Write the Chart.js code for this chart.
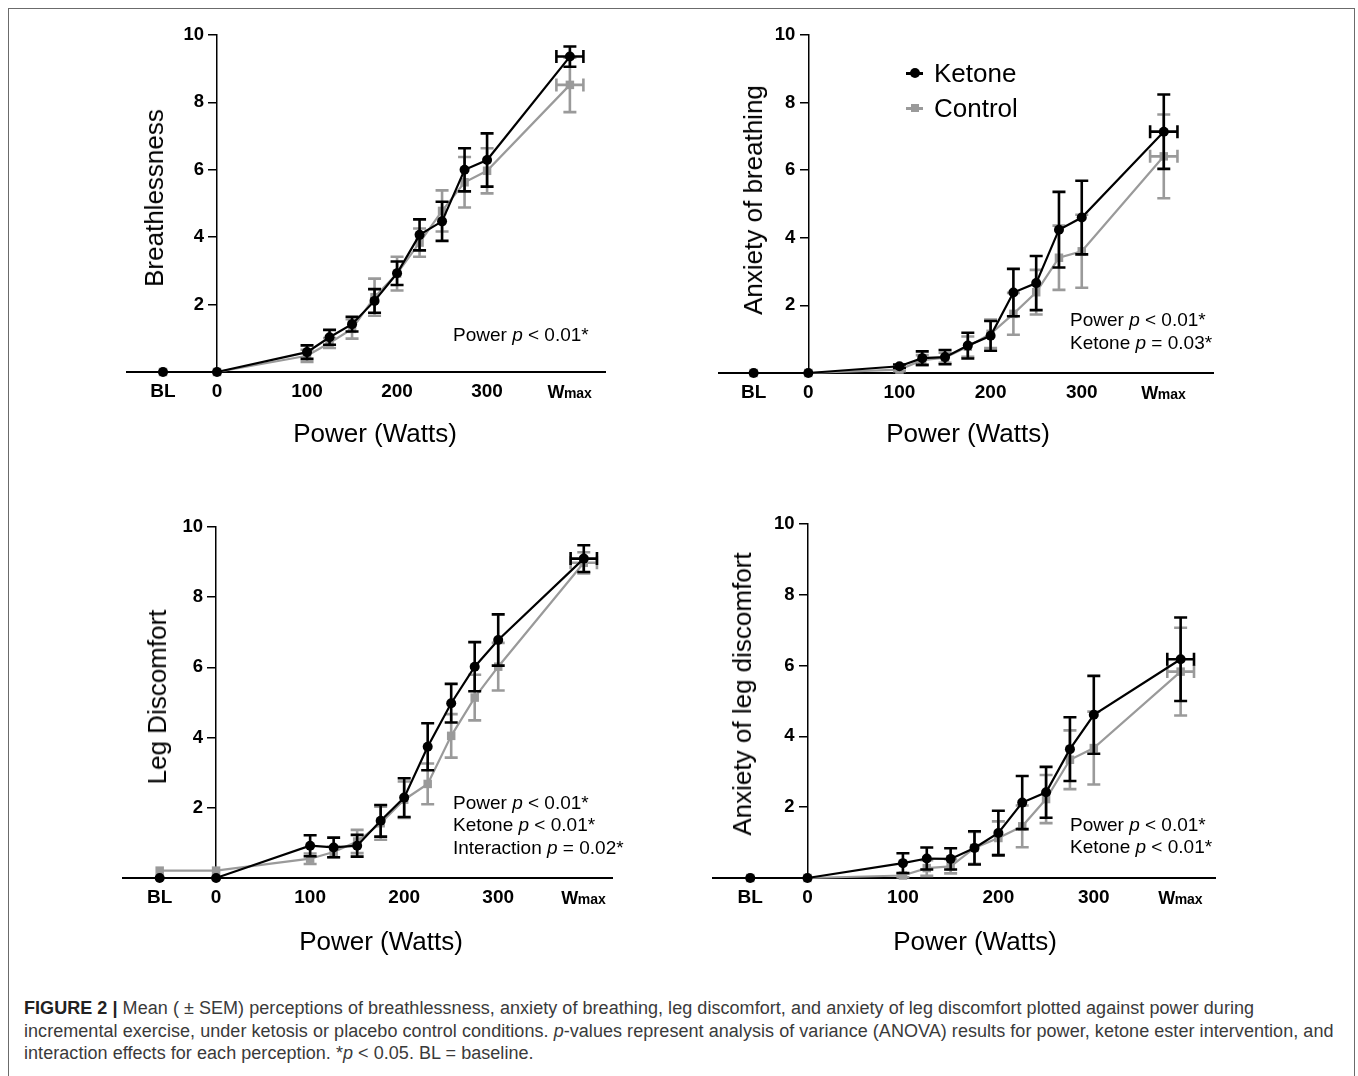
<!DOCTYPE html>
<html>
<head>
<meta charset="utf-8">
<title>Figure 2</title>
<script src="https://cdn.jsdelivr.net/npm/chart.js@4.4.1/dist/chart.umd.min.js"></script>
<style>
  html, body { margin:0; padding:0; background:#fff; }
  body { position:relative; width:1358px; height:1076px; overflow:hidden; font-family:"Liberation Sans", Arial, Helvetica, sans-serif; color:#000; }
  .frame { position:absolute; left:8px; top:8px; width:1347px; height:1100px; border:1.5px solid #6b6b6b; box-sizing:border-box; }
  canvas.panel { position:absolute; }
  .ytitle { position:absolute; font-size:26px; line-height:30px; white-space:nowrap; transform:translate(-50%,-50%) rotate(-90deg); }
  .xtitle { position:absolute; font-size:26px; line-height:30px; white-space:nowrap; transform:translate(-50%,-50%); }
  .anno { position:absolute; font-size:19px; line-height:22.5px; white-space:nowrap; letter-spacing:0px; }
  .legend { position:absolute; font-size:26px; line-height:35px; white-space:nowrap; }
  .legend .row { position:relative; height:35px; }
  .legend .mk { position:absolute; left:0; top:0; width:17px; height:35px; }
  .legend .mk .ln { position:absolute; left:0; top:16.5px; width:17px; height:2.5px; }
  .legend .mk .dot { position:absolute; left:3.5px; top:12.5px; width:10px; height:10px; border-radius:50%; }
  .legend .mk .sq { position:absolute; left:4.5px; top:13.5px; width:8px; height:8px; }
  .legend .tx { position:absolute; left:28px; top:0; }
  .caption { position:absolute; left:24px; top:997px; font-size:18px; line-height:22.5px; color:#3a3a3a; white-space:nowrap; letter-spacing:0.05px; }
</style>
</head>
<body>
<div class="frame"></div>
<script>
// ---------------- categories & tick labels ----------------
const powerSteps  = [-60, 0, 100, 125, 150, 175, 200, 225, 250, 275, 300]; // BL (baseline) plotted at -60
const xTickValues = [-60, 0, 100, 200, 300];
const xTickLabels = ['BL', '0', '100', '200', '300'];
const wmaxTickLabel = ['W', 'max'];
const yTickValues = [0, 2, 4, 6, 8, 10];
const yTickLabels = ['', '2', '4', '6', '8', '10'];
const seriesNames = ['Ketone', 'Control'];

// ---------------- Breathlessness ----------------
const breathWmax = 392, breathWmaxSem = 15;
const breathKetone     = [0, 0, 0.59, 1.03, 1.42, 2.11, 2.93, 4.07, 4.47, 6.00, 6.29, 9.36];
const breathKetoneSem  = [0, 0, 0.20, 0.22, 0.22, 0.35, 0.35, 0.46, 0.58, 0.64, 0.79, 0.30];
const breathControl    = [0, 0, 0.48, 0.86, 1.28, 2.22, 2.92, 3.84, 4.78, 5.63, 5.97, 8.52];
const breathControlSem = [0, 0, 0.18, 0.15, 0.29, 0.55, 0.50, 0.42, 0.61, 0.75, 0.67, 0.81];

// ---------------- Anxiety of breathing ----------------
const anxBreathWmax = 390, anxBreathWmaxSem = 15;
const anxBreathKetone     = [0, 0, 0.20, 0.44, 0.47, 0.81, 1.10, 2.38, 2.66, 4.24, 4.60, 7.14];
const anxBreathKetoneSem  = [0, 0, 0.05, 0.20, 0.21, 0.38, 0.44, 0.70, 0.80, 1.12, 1.09, 1.10];
const anxBreathControl    = [0, 0, 0.10, 0.38, 0.45, 0.78, 1.16, 1.75, 2.39, 3.41, 3.60, 6.41];
const anxBreathControlSem = [0, 0, 0.05, 0.15, 0.15, 0.30, 0.42, 0.62, 0.66, 0.95, 1.08, 1.24];

// ---------------- Leg discomfort ----------------
const legWmax = 391, legWmaxSem = 14;
const legKetone     = [0, 0, 0.92, 0.87, 0.92, 1.63, 2.29, 3.74, 4.98, 6.02, 6.78, 9.10];
const legKetoneSem  = [0, 0, 0.30, 0.28, 0.31, 0.45, 0.55, 0.67, 0.55, 0.70, 0.73, 0.38];
const legControl    = [0.21, 0.21, 0.55, 0.74, 1.04, 1.56, 2.23, 2.68, 4.05, 5.14, 6.02, 8.98];
const legControlSem = [0, 0, 0.15, 0.15, 0.33, 0.47, 0.52, 0.58, 0.62, 0.65, 0.68, 0.30];

// ---------------- Anxiety of leg discomfort ----------------
const anxLegWmax = 391, anxLegWmaxSem = 14;
const anxLegKetone     = [0, 0, 0.42, 0.55, 0.54, 0.85, 1.27, 2.13, 2.42, 3.64, 4.61, 6.18];
const anxLegKetoneSem  = [0, 0, 0.28, 0.31, 0.30, 0.47, 0.63, 0.75, 0.72, 0.90, 1.10, 1.18];
const anxLegControl    = [0, 0, 0.07, 0.28, 0.33, 0.85, 1.13, 1.46, 2.23, 3.34, 3.67, 5.83];
const anxLegControlSem = [0, 0, 0.05, 0.22, 0.20, 0.45, 0.47, 0.59, 0.68, 0.83, 1.03, 1.24];

// ---------------- text ----------------
const yTitles = ['Breathlessness', 'Anxiety of breathing', 'Leg Discomfort', 'Anxiety of leg discomfort'];
const xTitle = 'Power (Watts)';
const annotations = [
  ['Power <i>p</i> &lt; 0.01*'],
  ['Power <i>p</i> &lt; 0.01*', 'Ketone <i>p</i> = 0.03*'],
  ['Power <i>p</i> &lt; 0.01*', 'Ketone <i>p</i> &lt; 0.01*', 'Interaction <i>p</i> = 0.02*'],
  ['Power <i>p</i> &lt; 0.01*', 'Ketone <i>p</i> &lt; 0.01*']
];

// ---------------- layout (pixels) ----------------
const layoutCfg = [
  { area:{left:127, right:605,  top:35,  bottom:372}, xMin:-100, xMax:431, yT:[154,198], xT:[375,433], an:[453,324] },
  { area:{left:719, right:1213, top:35,  bottom:373}, xMin:-98,  xMax:444, yT:[753,200], xT:[968,433], an:[1070,309] },
  { area:{left:123, right:612,  top:527, bottom:878}, xMin:-99,  xMax:421, yT:[157,697], xT:[381,941], an:[453,791.5] },
  { area:{left:713, right:1215, top:524, bottom:878}, xMin:-99,  xMax:427, yT:[742,694], xT:[975,941], an:[1070,813.5] }
];
const panelData = [
  { wmax:breathWmax, wmaxSem:breathWmaxSem, k:breathKetone, kSem:breathKetoneSem, c:breathControl, cSem:breathControlSem },
  { wmax:anxBreathWmax, wmaxSem:anxBreathWmaxSem, k:anxBreathKetone, kSem:anxBreathKetoneSem, c:anxBreathControl, cSem:anxBreathControlSem },
  { wmax:legWmax, wmaxSem:legWmaxSem, k:legKetone, kSem:legKetoneSem, c:legControl, cSem:legControlSem },
  { wmax:anxLegWmax, wmaxSem:anxLegWmaxSem, k:anxLegKetone, kSem:anxLegKetoneSem, c:anxLegControl, cSem:anxLegControlSem }
];

const FONT = '"Liberation Sans", Arial, Helvetica, sans-serif';
Chart.defaults.font.family = FONT;
const XH = 32, Y_TICK_LEN = 8, Y_LABEL_GAP = 5, X_LABEL_PAD = 8, X_FONT = 19, Y_FONT = 18.5;

// error bars drawn through the chart scales
const errorBars = {
  id: 'errorBars',
  beforeDatasetDraw(chart, args) {
    const ds = chart.data.datasets[args.index];
    if (!ds.errY) return;
    const ctx = chart.ctx, xs = chart.scales.x, ys = chart.scales.y;
    ctx.save();
    ctx.strokeStyle = ds.borderColor;
    ctx.lineWidth = 2.6;
    ctx.lineCap = 'butt';
    const cap = 6.5;
    ds.data.forEach((pt, j) => {
      const px = xs.getPixelForValue(pt.x);
      const py = ys.getPixelForValue(pt.y);
      const e = ds.errY[j];
      if (e > 0) {
        const y1 = ys.getPixelForValue(pt.y + e), y2 = ys.getPixelForValue(pt.y - e);
        ctx.beginPath();
        ctx.moveTo(px, y1); ctx.lineTo(px, y2);
        ctx.moveTo(px - cap, y1); ctx.lineTo(px + cap, y1);
        ctx.moveTo(px - cap, y2); ctx.lineTo(px + cap, y2);
        ctx.stroke();
      }
      const ex = ds.errX ? ds.errX[j] : 0;
      if (ex > 0) {
        const x1 = xs.getPixelForValue(pt.x - ex), x2 = xs.getPixelForValue(pt.x + ex);
        ctx.beginPath();
        ctx.moveTo(x1, py); ctx.lineTo(x2, py);
        ctx.moveTo(x1, py - cap); ctx.lineTo(x1, py + cap);
        ctx.moveTo(x2, py - cap); ctx.lineTo(x2, py + cap);
        ctx.stroke();
      }
    });
    ctx.restore();
  }
};

// y tick labels sit left of the axis that crosses x = 0
const yLabelShift = {
  id: 'yLabelShift',
  beforeDraw(chart) {
    const ys = chart.scales.y, xs = chart.scales.x;
    const ax = xs.getPixelForValue(0);
    ys.getLabelItems(chart.chartArea).forEach(it => {
      it.options.translation[0] = ax - Y_TICK_LEN - Y_LABEL_GAP;
      it.options.textAlign = 'right';
    });
  }
};

// "Wmax" tick label with small "max"
const wmaxLabelPlugin = {
  id: 'wmaxLabel',
  afterDraw(chart, args, opts) {
    const xs = chart.scales.x, ctx = chart.ctx;
    const px = xs.getPixelForValue(opts.x);
    const base = xs.top + X_LABEL_PAD + X_FONT * 1.2 / 2 + 0.3465 * X_FONT;
    const fBig = 'bold 18px ' + FONT, fSmall = 'bold 14px ' + FONT;
    ctx.save();
    ctx.fillStyle = '#000'; ctx.textBaseline = 'alphabetic'; ctx.textAlign = 'left';
    ctx.font = fBig;  const w1 = ctx.measureText(wmaxTickLabel[0]).width;
    ctx.font = fSmall; const w2 = ctx.measureText(wmaxTickLabel[1]).width;
    const sx = px - (w1 + w2) / 2;
    ctx.font = fBig;  ctx.fillText(wmaxTickLabel[0], sx, base);
    ctx.font = fSmall; ctx.fillText(wmaxTickLabel[1], sx + w1 - 0.5, base);
    ctx.restore();
  }
};

function addDiv(cls, html, left, top) {
  const d = document.createElement('div');
  d.className = cls; d.innerHTML = html;
  d.style.left = left + 'px'; d.style.top = top + 'px';
  document.body.appendChild(d);
  return d;
}

layoutCfg.forEach((L, pi) => {
  const D = panelData[pi];
  const a = L.area;
  const padL = 40, padR = 40, padT = 25, padB = 22;
  const cw = a.right - a.left + padL + padR;
  const ch = a.bottom - a.top + padT + XH + padB;
  const cv = document.createElement('canvas');
  cv.className = 'panel';
  cv.width = cw; cv.height = ch;
  cv.style.width = cw + 'px'; cv.style.height = ch + 'px';
  cv.style.left = (a.left - padL) + 'px'; cv.style.top = (a.top - padT) + 'px';
  document.body.appendChild(cv);

  const xs = powerSteps.concat([D.wmax]);
  const errX = xs.map((v, i) => i === xs.length - 1 ? D.wmaxSem : 0);
  const kPts = xs.map((x, i) => ({ x, y: D.k[i] }));
  const cPts = xs.map((x, i) => ({ x, y: D.c[i] }));

  new Chart(cv, {
    type: 'line',
    data: {
      datasets: [
        { label: seriesNames[0], data: kPts, borderColor: '#000', backgroundColor: '#000', borderWidth: 2.2,
          pointStyle: 'circle', pointRadius: 5, pointBackgroundColor: '#000', pointBorderColor: '#000', pointBorderWidth: 0,
          tension: 0, clip: false, errY: D.kSem, errX: errX },
        { label: seriesNames[1], data: cPts, borderColor: '#9a9a9a', backgroundColor: '#9a9a9a', borderWidth: 2.2,
          pointStyle: 'rect', pointRadius: 6, pointBackgroundColor: '#9a9a9a', pointBorderColor: '#9a9a9a', pointBorderWidth: 0,
          tension: 0, clip: false, errY: D.cSem, errX: errX }
      ]
    },
    options: {
      responsive: false, animation: false, events: [],
      layout: { padding: { left: padL, right: padR, top: padT, bottom: padB } },
      plugins: { legend: { display: false }, tooltip: { enabled: false }, wmaxLabel: { x: D.wmax } },
      scales: {
        x: {
          type: 'linear', min: L.xMin, max: L.xMax, position: 'bottom',
          afterBuildTicks: s => { s.ticks = xTickValues.map(v => ({ value: v })); },
          afterFit: s => { s.height = XH; },
          grid: { display: false, drawTicks: false },
          border: { display: true, color: '#000', width: 2 },
          ticks: { autoSkip: false, maxRotation: 0, minRotation: 0, padding: X_LABEL_PAD, color: '#000',
                   font: { size: X_FONT, weight: 'bold' },
                   callback: v => { const i = xTickValues.indexOf(v); return i >= 0 ? xTickLabels[i] : ''; } }
        },
        y: {
          type: 'linear', min: 0, max: 10, position: { x: 0 },
          afterBuildTicks: s => { s.ticks = yTickValues.map(v => ({ value: v })); },
          grid: { display: true, drawOnChartArea: false, drawTicks: true, tickLength: Y_TICK_LEN, color: '#000', lineWidth: 1.5 },
          border: { display: true, color: '#000', width: 1.5 },
          ticks: { color: '#000', padding: Y_LABEL_GAP, font: { size: Y_FONT, weight: 'bold' },
                   callback: v => { const i = yTickValues.indexOf(v); return i >= 0 ? yTickLabels[i] : ''; } }
        }
      }
    },
    plugins: [errorBars, yLabelShift, wmaxLabelPlugin]
  });

  addDiv('ytitle', yTitles[pi], L.yT[0], L.yT[1]);
  addDiv('xtitle', xTitle, L.xT[0], L.xT[1]);
  addDiv('anno', annotations[pi].join('<br>'), L.an[0], L.an[1]);
});

// legend (panel B)
addDiv('legend',
  '<div class="row"><span class="mk"><span class="ln" style="background:#000"></span><span class="dot" style="background:#000"></span></span><span class="tx">' + seriesNames[0] + '</span></div>' +
  '<div class="row"><span class="mk"><span class="ln" style="background:#9a9a9a"></span><span class="sq" style="background:#9a9a9a"></span></span><span class="tx">' + seriesNames[1] + '</span></div>',
  906, 55.5);

// caption
addDiv('caption',
  '<b style="color:#222">FIGURE 2 |</b> Mean ( &plusmn; SEM) perceptions of breathlessness, anxiety of breathing, leg discomfort, and anxiety of leg discomfort plotted against power during<br>' +
  'incremental exercise, under ketosis or placebo control conditions. <i>p</i>-values represent analysis of variance (ANOVA) results for power, ketone ester intervention, and<br>' +
  'interaction effects for each perception. *<i>p</i> &lt; 0.05. BL = baseline.',
  24, 997);
</script>
</body>
</html>
